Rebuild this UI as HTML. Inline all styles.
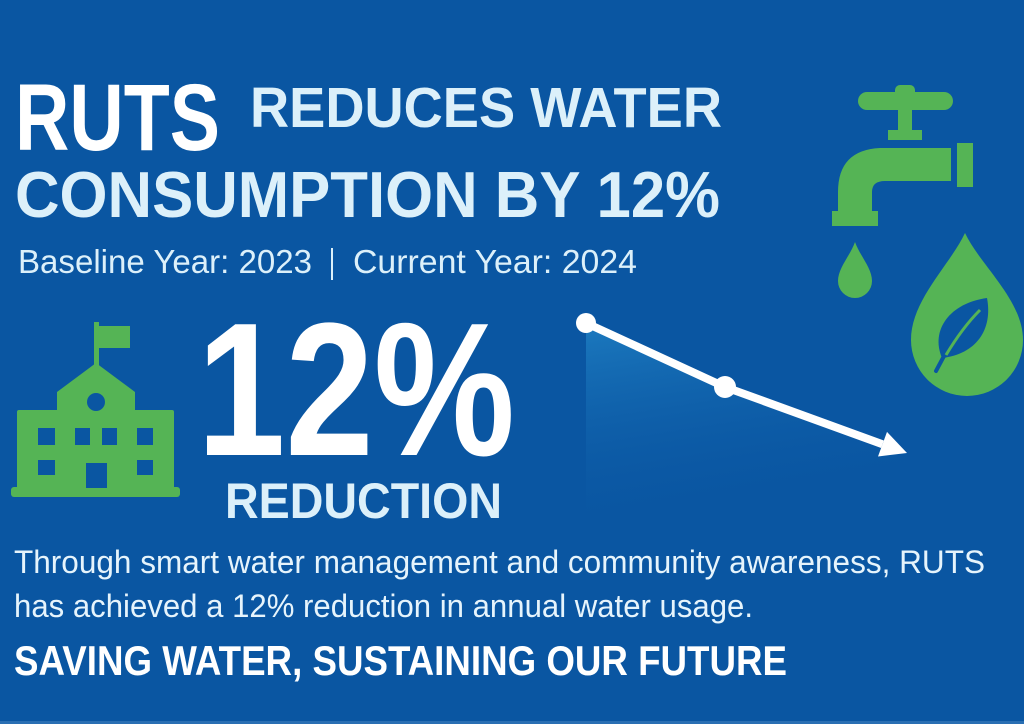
<!DOCTYPE html>
<html>
<head>
<meta charset="utf-8">
<style>
html,body{margin:0;padding:0;background:#0a56a2;}
svg{display:block;}
text{font-family:"Liberation Sans",Arial,sans-serif;}
</style>
</head>
<body>
<svg width="1024" height="724" viewBox="0 0 1024 724" xmlns="http://www.w3.org/2000/svg">
<defs>
<linearGradient id="area" x1="0" y1="0" x2="0.25" y2="1">
<stop offset="0" stop-color="#1f80c4" stop-opacity="0.85"/>
<stop offset="1" stop-color="#0a56a2" stop-opacity="0"/>
</linearGradient>
</defs>
<rect x="0" y="0" width="1024" height="724" fill="#0a56a2"/>
<rect x="0" y="721" width="1024" height="3" fill="#2a6fb3"/>

<!-- Title -->
<text x="15" y="150" font-size="95" font-weight="bold" fill="#ffffff" textLength="205" lengthAdjust="spacingAndGlyphs">RUTS</text>
<text x="250" y="127" font-size="57" font-weight="bold" fill="#dcf0fa" textLength="472" lengthAdjust="spacingAndGlyphs">REDUCES WATER</text>
<text x="15" y="217" font-size="65" font-weight="bold" fill="#dcf0fa" textLength="705" lengthAdjust="spacingAndGlyphs">CONSUMPTION BY 12%</text>

<text x="18" y="273" font-size="33" fill="#dcf0fa" textLength="294" lengthAdjust="spacingAndGlyphs">Baseline Year: 2023</text>
<rect x="331" y="248" width="2" height="32" fill="#dcf0fa"/>
<text x="353" y="273" font-size="33" fill="#dcf0fa" textLength="284" lengthAdjust="spacingAndGlyphs">Current Year: 2024</text>

<!-- Big number -->
<text x="197" y="455" font-size="190" font-weight="bold" fill="#ffffff" textLength="318" lengthAdjust="spacingAndGlyphs">12%</text>
<text x="225" y="518" font-size="50" font-weight="bold" fill="#dcf0fa" textLength="277" lengthAdjust="spacingAndGlyphs">REDUCTION</text>

<!-- Paragraph -->
<text x="14" y="573" font-size="32" fill="#e6f4fc" textLength="971" lengthAdjust="spacingAndGlyphs">Through smart water management and community awareness, RUTS</text>
<text x="14" y="617" font-size="32" fill="#e6f4fc" textLength="739" lengthAdjust="spacingAndGlyphs">has achieved a 12% reduction in annual water usage.</text>
<text x="14" y="675" font-size="42" font-weight="bold" fill="#ffffff" textLength="773" lengthAdjust="spacingAndGlyphs">SAVING WATER, SUSTAINING OUR FUTURE</text>

<!-- School icon -->
<g fill="#55b455">
<rect x="94" y="322" width="5" height="48"/>
<rect x="98" y="326" width="32" height="22"/>
<path d="M96 363 L57 392 L57 490 L135 490 L135 392 Z"/>
<rect x="17" y="410" width="157" height="80" rx="2"/>
<rect x="11" y="487" width="169" height="10" rx="3"/>
</g>
<g fill="#0a56a2">
<circle cx="96" cy="402" r="9"/>
<rect x="38" y="428" width="17" height="17"/>
<rect x="75" y="428" width="15" height="17"/>
<rect x="102" y="428" width="15" height="17"/>
<rect x="137" y="428" width="16" height="17"/>
<rect x="38" y="460" width="17" height="15"/>
<rect x="137" y="460" width="16" height="15"/>
<rect x="86" y="463" width="21" height="25"/>
</g>

<!-- Chart -->
<polygon points="586,323 725,387 907,452 907,525 586,525" fill="url(#area)"/>
<polyline points="586,323 725,387 882.5,444.2" fill="none" stroke="#ffffff" stroke-width="8" stroke-linejoin="round"/>
<polygon points="907,453 878,456.5 887,431.9" fill="#ffffff"/>
<circle cx="586" cy="323" r="10" fill="#ffffff"/>
<circle cx="725" cy="387" r="11" fill="#ffffff"/>

<!-- Faucet -->
<g fill="#55b455">
<rect x="858" y="92" width="95" height="18" rx="9"/>
<rect x="895" y="85" width="20" height="12" rx="5"/>
<rect x="898" y="108" width="14" height="24"/>
<rect x="888" y="130" width="34" height="10"/>
<path d="M951 148 L880 148 Q838 150 838 192 L838 212 L872 212 L872 192 Q872 181 885 181 L951 181 Z"/>
<rect x="957" y="143" width="16" height="44"/>
<rect x="832" y="211" width="46" height="15"/>
<path d="M855 242 C850 256 838 268 838 281 A17 17 0 0 0 872 281 C872 268 860 256 855 242 Z"/>
<path d="M965 233 C950 265 911 300 911 340 A56 56 0 0 0 1023 340 C1023 300 980 265 965 233 Z"/>
</g>
<!-- Leaf -->
<path d="M987 298 C950 303 930 330 942 358 C976 354 993 330 987 298 Z" fill="#0a56a2"/>
<path d="M944 356 L936 371" stroke="#0a56a2" stroke-width="4" stroke-linecap="round"/>
<path d="M980 310 C966 324 955 340 946 355" stroke="#55b455" stroke-width="3" fill="none"/>
</svg>
</body>
</html>
